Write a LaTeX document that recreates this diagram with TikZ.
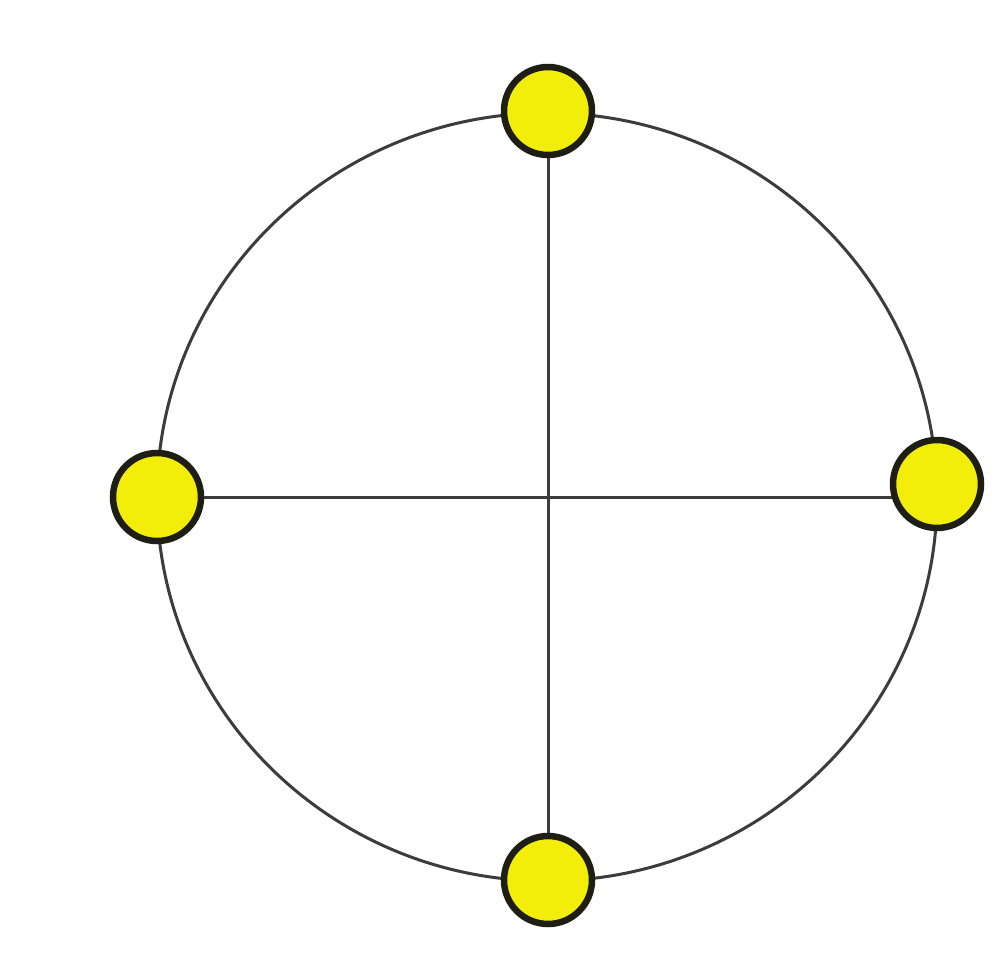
\documentclass[tikz,border=0pt]{standalone}
\usetikzlibrary{backgrounds}
\definecolor{nodefill}{RGB}{242,238,10}
\definecolor{nodeline}{RGB}{30,30,20}
\definecolor{edgecol}{RGB}{60,60,60}
\begin{document}
\begin{tikzpicture}[x=1pt,y=-1pt,
  vert/.style={circle,draw=nodeline,line width=6.5pt,fill=nodefill,minimum size=88pt,inner sep=0pt},
  edge/.style={draw=edgecol,line width=3pt}]
\useasboundingbox (0,0) rectangle (1004,964);
\node[vert] (t) at (548,111) {};
\node[vert] (b) at (548,880) {};
\node[vert] (l) at (157,497) {};
\node[vert] (r) at (937,484) {};
\begin{scope}[on background layer]
\draw[edge] (547,497) ellipse [x radius=390, y radius=384];
\draw[edge] (t) -- (b);
\draw[edge] (l) -- (l -| r);
\end{scope}
\end{tikzpicture}
\end{document}
